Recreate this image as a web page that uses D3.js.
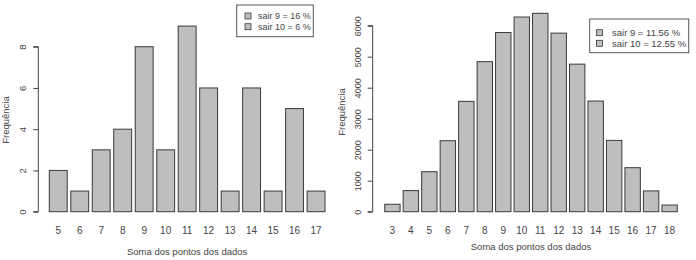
<!DOCTYPE html>
<html><head><meta charset="utf-8">
<script src="https://cdn.jsdelivr.net/npm/d3@7"></script>
<style>body{margin:0;background:#fff}svg{display:block}text{font-family:"Liberation Sans",Arial,sans-serif;fill:#444}</style>
</head><body><svg id="c" width="696" height="260"></svg>
<script>
const leftCategories = ["5","6","7","8","9","10","11","12","13","14","15","16","17"];
const leftValues = [2,1,3,4,8,3,9,6,1,6,1,5,1];
const leftTicks = [0,2,4,6,8];
const leftLegend = ["sair 9 = 16 %","sair 10 = 6 %"];

const rightCategories = ["3","4","5","6","7","8","9","10","11","12","13","14","15","16","17","18"];
const rightValues = [240,680,1290,2290,3560,4840,5780,6280,6400,5760,4760,3570,2300,1420,670,215];
const rightTicks = [0,1000,2000,3000,4000,5000,6000];
const rightLegend = ["sair 9 = 11.56 %","sair 10 = 12.55 %"];

const xTitle = "Soma dos pontos dos dados";
const yTitle = "Frequência";

const svg = d3.select("#c");

function panel(cfg){
  const g = svg.append("g");
  const x = d3.scaleBand().domain(cfg.cats).range(cfg.xr).paddingInner(1/6).paddingOuter(0);
  const y = d3.scaleLinear().domain([0, cfg.ymax]).range([211.7, cfg.ytop]);
  g.selectAll("rect.bar").data(cfg.vals).join("rect")
    .attr("x",(d,i)=>x(cfg.cats[i])).attr("width",x.bandwidth())
    .attr("y",d=>y(d)).attr("height",d=>y(0)-y(d))
    .attr("fill","#bebebe").attr("stroke","#3a3a3a").attr("stroke-width",1);
  const ax = g.append("g").attr("transform",`translate(${cfg.axX},0)`)
    .call(d3.axisLeft(y).tickValues(cfg.ticks).tickSize(5).tickFormat(d3.format("d")));
  ax.select(".domain").attr("stroke","#444").attr("d",`M-5,${y(cfg.ticks[0])}H0V${y(cfg.ticks[cfg.ticks.length-1])}H-5`);
  ax.selectAll(".tick line").attr("stroke","#444");
  ax.selectAll(".tick text").attr("transform","rotate(-90)")
    .attr("x",0).attr("y",-cfg.labOff).attr("dy","0.32em")
    .attr("text-anchor","middle").style("font-size",cfg.tickFs).style("fill","#444");
  g.selectAll("text.xl").data(cfg.cats).join("text").attr("class","xl")
    .attr("x",d=>x(d)+x.bandwidth()/2).attr("y",234)
    .attr("text-anchor","middle").style("font-size","10px").text(d=>d);
  g.append("text").attr("x",(cfg.xr[0]+cfg.xr[1])/2).attr("y",cfg.titleY)
    .attr("text-anchor","middle").style("font-size","9.5px").text(xTitle);
  g.append("text").attr("transform",`translate(${cfg.yTitleX},${cfg.yTitleY}) rotate(-90)`)
    .attr("text-anchor","middle").style("font-size","9.5px").text(yTitle);
  const L = cfg.leg;
  g.append("rect").attr("x",L.x).attr("y",L.y).attr("width",L.w).attr("height",L.h)
    .attr("fill","#fff").attr("stroke","#555").attr("stroke-width",1);
  cfg.legend.forEach((t,i)=>{
    const cy = L.y + L.r0 + i*L.dy;
    g.append("rect").attr("x",L.sx).attr("y",cy-3).attr("width",6).attr("height",6)
      .attr("fill","#bebebe").attr("stroke","#3a3a3a").attr("stroke-width",0.8);
    g.append("text").attr("x",L.tx).attr("y",cy).attr("dy","0.35em")
      .style("font-size",L.fs).text(t);
  });
}

panel({cats:leftCategories, vals:leftValues, ticks:leftTicks, ymax:8, ytop:46.7,
  xr:[49.3,325], axX:38.3, labOff:15.5, tickFs:"9.5px", titleY:255, yTitleX:8.5, yTitleY:120,
  legend:leftLegend, leg:{x:236.7,y:5,w:76.6,h:31.7,sx:245,tx:258,r0:11,dy:10.7,fs:"9px"}});

panel({cats:rightCategories, vals:rightValues, ticks:rightTicks, ymax:6000, ytop:25.7,
  xr:[384.7,677.3], axX:372.7, labOff:14.5, tickFs:"9px", titleY:250, yTitleX:345, yTitleY:112,
  legend:rightLegend, leg:{x:589.7,y:19,w:99,h:33.7,sx:596.5,tx:612,r0:13.7,dy:10.6,fs:"9.5px"}});
</script></body></html>
